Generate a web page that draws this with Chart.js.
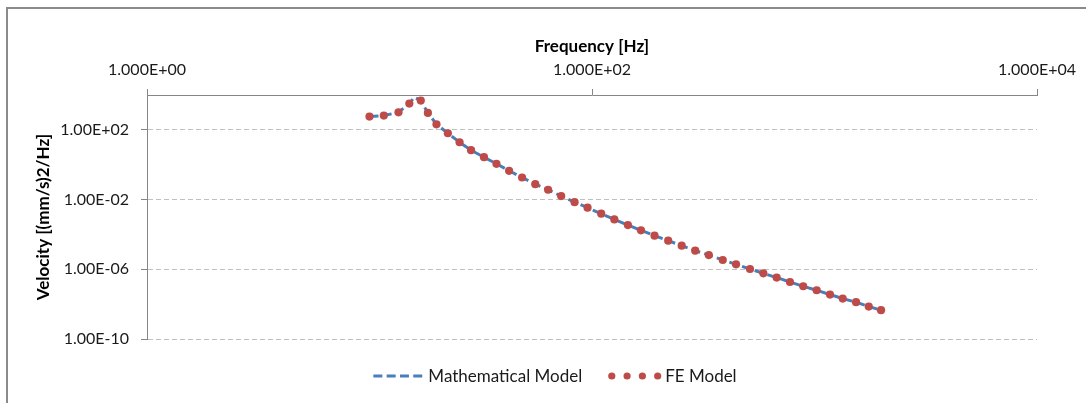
<!DOCTYPE html>
<html>
<head>
<meta charset="utf-8">
<script src="https://cdn.jsdelivr.net/npm/chart.js@4.4.1/dist/chart.umd.min.js"></script>
<style>
  html, body { margin: 0; padding: 0; background: #fff; }
  canvas { display: block; }
</style>
</head>
<body>
<canvas id="psdChart" width="1086" height="403"></canvas>
<script>
/* Velocity PSD, FE model points */
const feFreq = [10.0, 11.6, 13.5, 15.1, 17.0, 18.3, 20.0, 22.5, 25.4, 28.6, 32.7, 37.2, 42.4, 48.5,
  55.6, 63.5, 72.7, 83.5, 95.5, 110, 126, 145, 166, 191, 220, 253, 291, 335, 387, 444, 513, 589,
  676, 776, 890, 1023, 1174, 1339, 1537, 1753, 1991];
const feVel = [578, 659, 1019, 3206, 4764, 942, 209, 63.8, 19.5, 6.79, 2.70, 1.13, 0.449, 0.185,
  0.0766, 0.0366, 0.0158, 7.13e-3, 3.41e-3, 1.55e-3, 7.29e-4, 3.44e-4, 1.71e-4, 8.5e-5, 4.39e-5,
  2.27e-5, 1.17e-5, 6.58e-6, 3.40e-6, 1.93e-6, 1.04e-6, 5.89e-7, 3.34e-7, 1.87e-7, 1.06e-7,
  6.25e-8, 3.55e-8, 2.09e-8, 1.29e-8, 7.29e-9, 4.48e-9];

/* Mathematical model curve (has the resonance peak between FE points) */
const mathFreq = [10.0, 11.6, 13.5, 15.1, 15.9, 17.0, 18.3, 20.0, 22.5, 25.4, 28.6, 32.7, 37.2, 42.4,
  48.5, 55.6, 63.5, 72.7, 83.5, 95.5, 110, 126, 145, 166, 191, 220, 253, 291, 335, 387, 444, 513,
  589, 676, 776, 890, 1023, 1174, 1339, 1537, 1753, 1991];
const mathVel = [578, 659, 1019, 3206, 7400, 4764, 942, 209, 63.8, 19.5, 6.79, 2.70, 1.13, 0.449,
  0.185, 0.0766, 0.0366, 0.0158, 7.13e-3, 3.41e-3, 1.55e-3, 7.29e-4, 3.44e-4, 1.71e-4, 8.5e-5,
  4.39e-5, 2.27e-5, 1.17e-5, 6.58e-6, 3.40e-6, 1.93e-6, 1.04e-6, 5.89e-7, 3.34e-7, 1.87e-7,
  1.06e-7, 6.25e-8, 3.55e-8, 2.09e-8, 1.29e-8, 7.29e-9, 4.48e-9];

const xTickValues = [1, 100, 10000];
const xTickLabels = ['1.000E+00', '1.000E+02', '1.000E+04'];
const yTickValues = [1e-10, 1e-6, 1e-2, 1e2];
const yTickLabels = ['1.00E-10', '1.00E-06', '1.00E-02', '1.00E+02'];

const BLUE = '#4a7ebb';
const RED = '#be4b48';
const AXIS = '#868686';
const TEXT = '#1a1a1a';

const toPoints = (xs, ys) => xs.map((x, i) => ({ x: x, y: ys[i] }));

Chart.defaults.font.family = 'Lato, "Open Sans", sans-serif';
Chart.defaults.font.size = 16;
Chart.defaults.color = TEXT;

// outer frame of the chart object
const frame = {
  id: 'frame',
  beforeDraw(chart) {
    const ctx = chart.ctx;
    ctx.save();
    ctx.fillStyle = '#fff';
    ctx.fillRect(0, 0, chart.width, chart.height);
    ctx.strokeStyle = '#8a8a8a';
    ctx.lineWidth = 2;
    ctx.strokeRect(7, 8, chart.width + 20, chart.height + 20);
    ctx.restore();
  }
};

// legend row under the plot: dashed line sample / dotted marker sample
const bottomLegend = {
  id: 'bottomLegend',
  afterDraw(chart) {
    const ctx = chart.ctx;
    const ds = chart.data.datasets;
    const y = 376;
    ctx.save();
    ctx.font = '17px Lato, sans-serif';
    ctx.textBaseline = 'middle';
    ctx.fillStyle = TEXT;
    const w1 = ctx.measureText(ds[0].label).width;
    const w2 = ctx.measureText(ds[1].label).width;
    const total = 49 + 6 + w1 + 24 + 53 + 4 + w2;
    let x = 554 - total / 2;

    ctx.strokeStyle = ds[0].borderColor;
    ctx.lineWidth = 3;
    ctx.setLineDash([9, 4.3]);
    ctx.beginPath();
    ctx.moveTo(x, y);
    ctx.lineTo(x + 49, y);
    ctx.stroke();
    ctx.setLineDash([]);
    x += 55;
    ctx.fillText(ds[0].label, x, y + 1);
    x += w1 + 26;

    ctx.fillStyle = ds[1].pointBackgroundColor;
    for (let i = 0; i < 4; i++) {
      ctx.beginPath();
      ctx.arc(x + 3.6 + i * 15.3, y, 3.6, 0, Math.PI * 2);
      ctx.fill();
    }
    x += 57;
    ctx.fillStyle = TEXT;
    ctx.fillText(ds[1].label, x, y + 1);
    ctx.restore();
  }
};

new Chart(document.getElementById('psdChart'), {
  type: 'scatter',
  data: {
    datasets: [
      {
        label: 'Mathematical Model',
        data: toPoints(mathFreq, mathVel),
        showLine: true,
        borderColor: BLUE,
        borderWidth: 3,
        borderDash: [9, 4.3],
        pointRadius: 0,
        fill: false,
        order: 2
      },
      {
        label: 'FE Model',
        data: toPoints(feFreq, feVel),
        showLine: false,
        pointRadius: 4.1,
        pointBackgroundColor: RED,
        pointBorderColor: RED,
        pointBorderWidth: 0,
        order: 1
      }
    ]
  },
  options: {
    responsive: false,
    animation: false,
    layout: { padding: { left: 30, top: 30, right: 49, bottom: 64 } },
    plugins: {
      legend: { display: false },
      tooltip: { enabled: false }
    },
    scales: {
      x: {
        type: 'logarithmic',
        position: 'top',
        min: 1,
        max: 10000,
        afterBuildTicks: (s) => { s.ticks = xTickValues.map(v => ({ value: v })); },
        afterFit: (s) => { s.height = 65; },
        ticks: {
          autoSkip: false,
          maxRotation: 0,
          padding: 10,
          callback: (v, i) => xTickLabels[i]
        },
        grid: {
          drawOnChartArea: false,
          drawTicks: true,
          tickLength: 6,
          color: AXIS
        },
        border: { display: true, color: AXIS, width: 1 },
        title: {
          display: true,
          text: 'Frequency [Hz]',
          font: { weight: 'bold', size: 17 },
          color: '#000',
          padding: { top: 6, bottom: 0 }
        }
      },
      y: {
        type: 'logarithmic',
        position: 'left',
        min: 1e-10,
        max: 1e4,
        afterBuildTicks: (s) => { s.ticks = yTickValues.map(v => ({ value: v })); },
        afterFit: (s) => { s.width = 117; },
        ticks: {
          autoSkip: false,
          padding: 12,
          callback: (v, i) => yTickLabels[i]
        },
        grid: {
          drawOnChartArea: true,
          drawTicks: true,
          tickLength: 6,
          color: '#c0c0c0',
          tickColor: AXIS,
          tickBorderDash: []
        },
        border: { display: true, color: AXIS, width: 1, dash: [5, 3] },
        title: {
          display: true,
          text: 'Velocity [(mm/s)2/Hz]',
          font: { weight: 'bold', size: 17 },
          color: '#000',
          padding: { top: 3, bottom: 0 }
        }
      }
    }
  },
  plugins: [frame, bottomLegend]
});
</script>
</body>
</html>
